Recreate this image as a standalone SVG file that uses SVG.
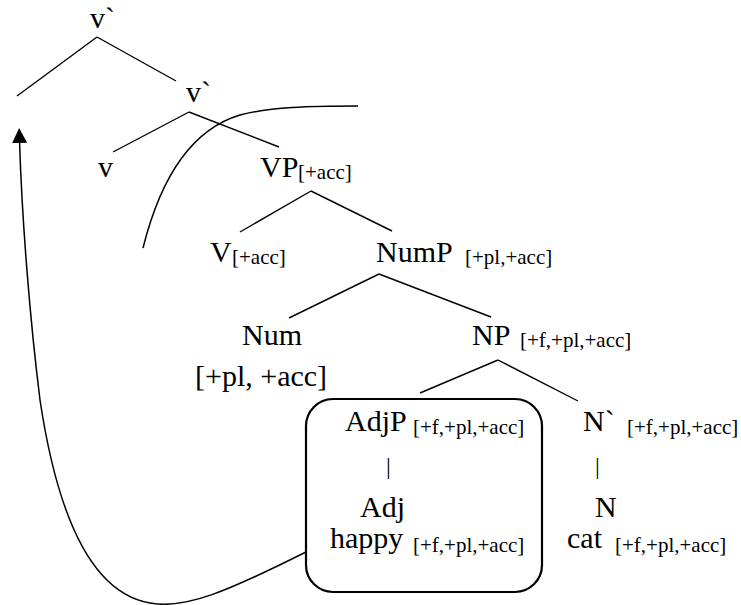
<svg xmlns="http://www.w3.org/2000/svg" width="741" height="605" viewBox="0 0 741 605">
<style>
text{font-family:'Liberation Serif','Times New Roman',serif;fill:#000}
.m{font-size:30px}
.s{font-size:21px}
.bar{font-size:24px}
.ln{stroke:#000;stroke-width:1.4;fill:none}
.cv{stroke:#000;stroke-width:1.5;fill:none}
</style>
<defs>
<marker id="ah" viewBox="0 0 15 15" refX="0" refY="7.5" markerWidth="15" markerHeight="15" markerUnits="userSpaceOnUse" orient="auto">
<path d="M0,0 L15,7.5 L0,15 z" fill="#000"/>
</marker>
</defs>
<rect width="741" height="605" fill="#fff"/>
<g id="connectors">
<line class="ln" x1="97" y1="37" x2="17" y2="96"/>
<line class="ln" x1="97" y1="37" x2="176" y2="81"/>
<line class="ln" x1="189" y1="112" x2="113" y2="152"/>
<line class="ln" x1="189" y1="112" x2="279" y2="147"/>
<line class="ln" x1="311" y1="191" x2="240" y2="232"/>
<line class="ln" x1="311" y1="191" x2="392" y2="231"/>
<line class="ln" x1="379" y1="274" x2="289" y2="318"/>
<line class="ln" x1="379" y1="274" x2="491" y2="317"/>
<line class="ln" x1="498" y1="360" x2="420" y2="393"/>
<line class="ln" x1="498" y1="360" x2="578" y2="401"/>
<path class="cv" d="M143,248 C160,180 190,130 240,115 C270,107 310,106 358,106"/>
<path class="cv" d="M306,552 C230,590 185,610 150,603 C85,592 55,500 40,400 C30,320 22,220 19.6,143" marker-end="url(#ah)"/>
</g>
<g id="n-vbar-top"><text class="m" x="90" y="28">v`</text></g>
<g id="n-vbar"><text class="m" x="186" y="102">v`</text></g>
<g id="n-v"><text class="m" x="98" y="177">v</text></g>
<g id="n-VP"><text class="m" x="260" y="177">VP</text><text class="s" x="298" y="179">[+acc]</text></g>
<g id="n-V"><text class="m" x="210" y="262">V</text><text class="s" x="232" y="264">[+acc]</text></g>
<g id="n-NumP"><text class="m" x="376" y="262">NumP</text><text class="s" x="465" y="264">[+pl,+acc]</text></g>
<g id="n-Num"><text class="m" x="242" y="345">Num</text><text class="m" x="195" y="386">[+pl, +acc]</text></g>
<g id="n-NP"><text class="m" x="472" y="345">NP</text><text class="s" x="520" y="347">[+f,+pl,+acc]</text></g>
<g id="n-box"><rect x="306" y="399" width="236" height="193" rx="27" ry="27" fill="none" stroke="#000" stroke-width="2.2"/></g>
<g id="n-AdjP"><text class="m" x="345" y="431">AdjP</text><text class="s" x="413" y="434">[+f,+pl,+acc]</text><text class="bar" x="386" y="474">|</text></g>
<g id="n-Adj"><text class="m" x="360" y="517">Adj</text></g>
<g id="n-happy"><text class="m" x="330" y="548">happy</text><text class="s" x="413" y="552">[+f,+pl,+acc]</text></g>
<g id="n-Nbar"><text class="m" x="583" y="431">N`</text><text class="s" x="627" y="434">[+f,+pl,+acc]</text><text class="bar" x="595" y="474">|</text></g>
<g id="n-N"><text class="m" x="595" y="517">N</text></g>
<g id="n-cat"><text class="m" x="567" y="548">cat</text><text class="s" x="615" y="552">[+f,+pl,+acc]</text></g>
</svg>
